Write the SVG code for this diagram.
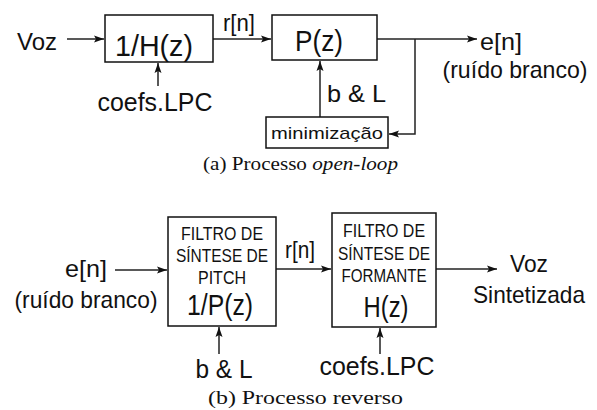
<svg xmlns="http://www.w3.org/2000/svg" width="597" height="410" viewBox="0 0 597 410">
<style>
.box{fill:#fff;stroke:#111;stroke-width:1.5}
.ln{fill:none;stroke:#222;stroke-width:1.5}
.t{font-family:"Liberation Sans",LiberationSans,Arimo,Arial,Helvetica,"Noto Sans",sans-serif;fill:#111}
.cap{font-family:"Liberation Serif",LiberationSerif,Tinos,"Times New Roman","Noto Serif",serif;fill:#111;font-size:18px}
</style>
<defs>
<marker id="ah" viewBox="0 0 10 10" refX="10" refY="5" markerWidth="10" markerHeight="10" markerUnits="userSpaceOnUse" orient="auto">
<path d="M0,1.5 L10,5 L0,8.5 L2,5 Z" fill="#111"/>
</marker>
</defs>
<rect width="597" height="410" fill="#fff"/>
<g id="connectors">
<line class="ln" x1="67" y1="39" x2="104" y2="39" marker-end="url(#ah)"/>
<line class="ln" x1="213" y1="39" x2="271" y2="39" marker-end="url(#ah)"/>
<line class="ln" x1="377" y1="39" x2="477" y2="39" marker-end="url(#ah)"/>
<polyline class="ln" points="415,39 415,134 389,134" marker-end="url(#ah)"/>
<line class="ln" x1="320" y1="117" x2="320" y2="61" marker-end="url(#ah)"/>
<line class="ln" x1="158" y1="86" x2="158" y2="63" marker-end="url(#ah)"/>
<line class="ln" x1="115" y1="270" x2="167" y2="270" marker-end="url(#ah)"/>
<line class="ln" x1="276" y1="269" x2="331" y2="269" marker-end="url(#ah)"/>
<line class="ln" x1="436" y1="269" x2="497" y2="269" marker-end="url(#ah)"/>
<line class="ln" x1="219" y1="354" x2="219" y2="327" marker-end="url(#ah)"/>
<line class="ln" x1="380" y1="354" x2="380" y2="328" marker-end="url(#ah)"/>
</g>
<g id="voz-in"><text class="t" x="17" y="50" font-size="24" textLength="40" lengthAdjust="spacingAndGlyphs">Voz</text></g>
<g id="invH">
<rect class="box" x="105" y="15" width="108" height="47"/>
<text class="t" x="154" y="56" font-size="29" text-anchor="middle" textLength="78" lengthAdjust="spacingAndGlyphs">1/H(z)</text>
</g>
<g id="coefs-a"><text class="t" x="155" y="111" font-size="25" text-anchor="middle" textLength="115" lengthAdjust="spacingAndGlyphs">coefs.LPC</text></g>
<g id="rn-a"><text class="t" x="239" y="31" font-size="24" text-anchor="middle" textLength="32" lengthAdjust="spacingAndGlyphs">r[n]</text></g>
<g id="Pz">
<rect class="box" x="272" y="15" width="105" height="45"/>
<text class="t" x="319" y="51" font-size="29" text-anchor="middle" textLength="48" lengthAdjust="spacingAndGlyphs">P(z)</text>
</g>
<g id="en-out">
<text class="t" x="480" y="50" font-size="24" textLength="42" lengthAdjust="spacingAndGlyphs">e[n]</text>
<text class="t" x="515" y="78" font-size="24" text-anchor="middle" textLength="145" lengthAdjust="spacingAndGlyphs">(ruído branco)</text>
</g>
<g id="bL-a"><text class="t" x="327" y="102" font-size="24" textLength="59" lengthAdjust="spacingAndGlyphs">b &amp; L</text></g>
<g id="minim">
<rect class="box" x="266" y="117" width="122" height="31"/>
<text class="t" x="327" y="139" font-size="17" text-anchor="middle" textLength="112" lengthAdjust="spacingAndGlyphs">minimização</text>
</g>
<g id="caption-a"><text class="cap" x="203" y="170" textLength="195" lengthAdjust="spacingAndGlyphs">(a) Processo <tspan font-style="italic">open-loop</tspan></text></g>
<g id="en-in">
<text class="t" x="86" y="277" font-size="24" text-anchor="middle" textLength="42" lengthAdjust="spacingAndGlyphs">e[n]</text>
<text class="t" x="86" y="308" font-size="24" text-anchor="middle" textLength="143" lengthAdjust="spacingAndGlyphs">(ruído branco)</text>
</g>
<g id="pitch">
<rect class="box" x="168" y="217" width="108" height="109"/>
<text class="t" x="222" y="240" font-size="18" text-anchor="middle" textLength="82" lengthAdjust="spacingAndGlyphs">FILTRO DE</text>
<text class="t" x="222" y="262" font-size="18" text-anchor="middle" textLength="92" lengthAdjust="spacingAndGlyphs">SÍNTESE DE</text>
<text class="t" x="222" y="284" font-size="18" text-anchor="middle" textLength="48" lengthAdjust="spacingAndGlyphs">PITCH</text>
<text class="t" x="220" y="315" font-size="29" text-anchor="middle" textLength="66" lengthAdjust="spacingAndGlyphs">1/P(z)</text>
</g>
<g id="bL-b"><text class="t" x="224" y="378" font-size="25" text-anchor="middle" textLength="57" lengthAdjust="spacingAndGlyphs">b &amp; L</text></g>
<g id="rn-b"><text class="t" x="300" y="258" font-size="24" text-anchor="middle" textLength="30" lengthAdjust="spacingAndGlyphs">r[n]</text></g>
<g id="formant">
<rect class="box" x="332" y="213" width="104" height="114"/>
<text class="t" x="384" y="237" font-size="18" text-anchor="middle" textLength="82" lengthAdjust="spacingAndGlyphs">FILTRO DE</text>
<text class="t" x="384" y="260" font-size="18" text-anchor="middle" textLength="92" lengthAdjust="spacingAndGlyphs">SÍNTESE DE</text>
<text class="t" x="384" y="282" font-size="18" text-anchor="middle" textLength="85" lengthAdjust="spacingAndGlyphs">FORMANTE</text>
<text class="t" x="386" y="317" font-size="30" text-anchor="middle" textLength="45" lengthAdjust="spacingAndGlyphs">H(z)</text>
</g>
<g id="coefs-b"><text class="t" x="377" y="375" font-size="25" text-anchor="middle" textLength="115" lengthAdjust="spacingAndGlyphs">coefs.LPC</text></g>
<g id="voz-out">
<text class="t" x="529" y="272" font-size="24" text-anchor="middle" textLength="38" lengthAdjust="spacingAndGlyphs">Voz</text>
<text class="t" x="529" y="303" font-size="24" text-anchor="middle" textLength="112" lengthAdjust="spacingAndGlyphs">Sintetizada</text>
</g>
<g id="caption-b"><text class="cap" x="208" y="404" textLength="195" lengthAdjust="spacingAndGlyphs">(b) Processo reverso</text></g>
</svg>
